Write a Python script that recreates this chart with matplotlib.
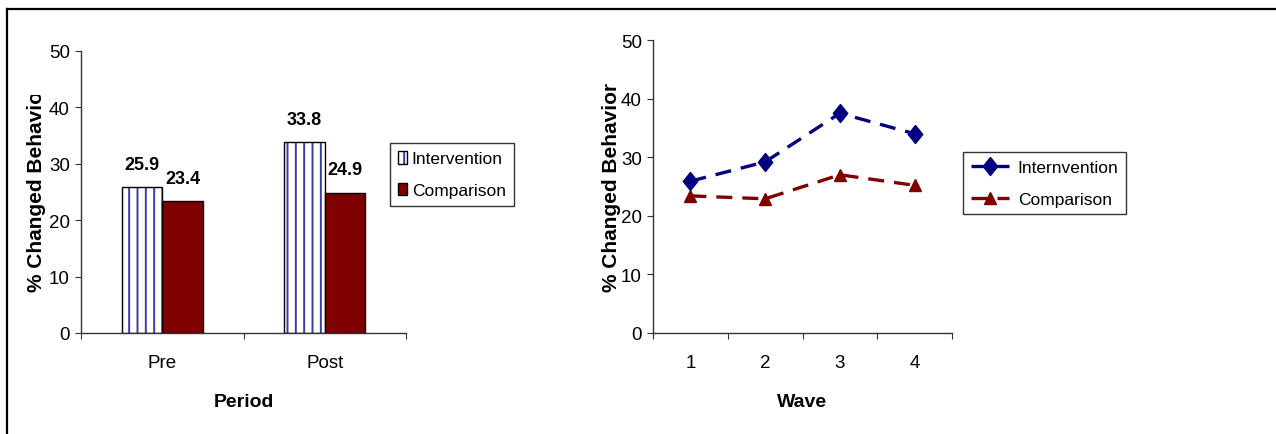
import matplotlib
matplotlib.use("Agg")
import matplotlib.pyplot as plt
import numpy as np
from matplotlib.lines import Line2D
from matplotlib.patches import Patch
from matplotlib.transforms import Bbox, TransformedBbox

# data
periods = ["Pre", "Post"]
bar_intervention = [25.9, 33.8]
bar_comparison = [23.4, 24.9]

waves = ["1", "2", "3", "4"]
line_intervention = [25.9, 29.2, 37.5, 34.0]
line_comparison = [23.4, 22.9, 27.0, 25.2]

plt.rcParams["font.family"] = ["Liberation Sans", "DejaVu Sans"]
plt.rcParams["hatch.linewidth"] = 1.4

navy = "#000080"
maroon = "#800000"
hatch_blue = "#3a3aa8"
# slightly tall diamond like the excel marker
tall_diamond = [(0, 1), (0.8, 0), (0, -1), (-0.8, 0), (0, 1)]

fig = plt.figure(figsize=(12.76, 4.35), dpi=100)

ax1 = fig.add_axes([81 / 1276, 1 - 334 / 435, 325 / 1276, 282 / 435])
ax2 = fig.add_axes([653 / 1276, 1 - 334 / 435, 299 / 1276, 293 / 435])

# ---- left: bar chart
x = np.arange(len(periods)) + 0.5
w = 0.25
ax1.bar(x - w / 2, bar_intervention, w, color="white", edgecolor=hatch_blue,
        hatch="||", linewidth=0, zorder=2)
ax1.bar(x - w / 2, bar_intervention, w, fill=False, edgecolor="black",
        linewidth=1, zorder=3)
ax1.bar(x + w / 2, bar_comparison, w, color=maroon, edgecolor="black",
        linewidth=1, zorder=3)

for xi, v in zip(x - w / 2, bar_intervention):
    ax1.annotate(f"{v:.1f}", (xi, v), xytext=(0, 16.5), textcoords="offset points",
                 ha="center", va="center", fontsize=13, fontweight="bold")
for xi, v in zip(x + w / 2, bar_comparison):
    ax1.annotate(f"{v:.1f}", (xi, v), xytext=(0, 16.5), textcoords="offset points",
                 ha="center", va="center", fontsize=13, fontweight="bold")

ax1.set_xlim(0, 2)
ax1.set_ylim(0, 50)
ax1.set_xticks([0, 1, 2])
ax1.set_xticklabels([])
ax1.set_xticks(x, minor=True)
ax1.set_xticklabels(periods, minor=True)

# ---- right: line chart
xw = np.arange(len(waves)) + 0.5
ax2.plot(xw, line_intervention, color=navy, lw=2.4, ls=(0, (4.8, 3)),
         marker=tall_diamond, ms=13, label="Internvention")
ax2.plot(xw, line_comparison, color=maroon, lw=2.4, ls=(0, (4.8, 3)),
         marker="^", ms=9, label="Comparison")
ax2.set_xlim(0, 4)
ax2.set_ylim(0, 50)
ax2.set_xticks([0, 1, 2, 3, 4])
ax2.set_xticklabels([])
ax2.set_xticks(xw, minor=True)
ax2.set_xticklabels(waves, minor=True)

for ax in (ax1, ax2):
    ax.set_yticks(range(0, 51, 10))
    for s in ("top", "right"):
        ax.spines[s].set_visible(False)
    for s in ("left", "bottom"):
        ax.spines[s].set_color("#333333")
        ax.spines[s].set_linewidth(1)
    ax.tick_params(axis="both", which="major", direction="out", length=4,
                   color="#333333", labelsize=13.5, pad=4)
    ax.tick_params(axis="x", which="minor", length=0, labelsize=13.5, pad=15)
    ax.set_ylabel("% Changed Behavior", fontsize=15, fontweight="bold")

ax1.set_xlabel("Period", fontsize=14, fontweight="bold")
ax2.set_xlabel("Wave", fontsize=14, fontweight="bold")
ax1.xaxis.set_label_coords(0.5, -0.213)
ax2.xaxis.set_label_coords(0.5, -0.205)
ax1.yaxis.set_label_coords(-0.108, 0.52)
ax2.yaxis.set_label_coords(-0.107, 0.5)

# the left axis title is cut off at the top in the original
clip = TransformedBbox(Bbox([[0, 0], [1, 1 - 96 / 435]]), fig.transFigure)
ax1.yaxis.label.set_clip_box(clip)
ax1.yaxis.label.set_clip_on(True)

# ---- legends
h_int = (Patch(facecolor="white", edgecolor=hatch_blue, hatch="||", linewidth=0),
         Patch(fill=False, edgecolor="black", linewidth=1))
h_cmp = Patch(facecolor=maroon, edgecolor="black", linewidth=1)
leg1 = fig.legend([h_int, h_cmp], ["Intervention", "Comparison"],
                  loc="upper left", bbox_to_anchor=(390 / 1276, 1 - 144 / 435),
                  fontsize=12.5, frameon=True, fancybox=False, edgecolor="black",
                  handlelength=0.55, handleheight=0.75, handletextpad=0.25,
                  labelspacing=0.95, borderpad=0.45, borderaxespad=0)
leg1.get_frame().set_linewidth(1)

leg2 = fig.legend(*ax2.get_legend_handles_labels(),
                  loc="upper left", bbox_to_anchor=(963 / 1276, 1 - 153 / 435),
                  fontsize=12.5, frameon=True, fancybox=False, edgecolor="black",
                  handlelength=2.2, handletextpad=0.5, numpoints=1,
                  labelspacing=0.95, borderpad=0.45, borderaxespad=0)
leg2.get_frame().set_linewidth(1)

# outer frame (top and left edge only visible)
fig.add_artist(Line2D([7 / 1276, 1], [1 - 10 / 435, 1 - 10 / 435],
                      transform=fig.transFigure, color="black", lw=1.6))
fig.add_artist(Line2D([7 / 1276, 7 / 1276], [0, 1 - 10 / 435],
                      transform=fig.transFigure, color="black", lw=1.6))

fig.savefig("out.png", dpi=100)
